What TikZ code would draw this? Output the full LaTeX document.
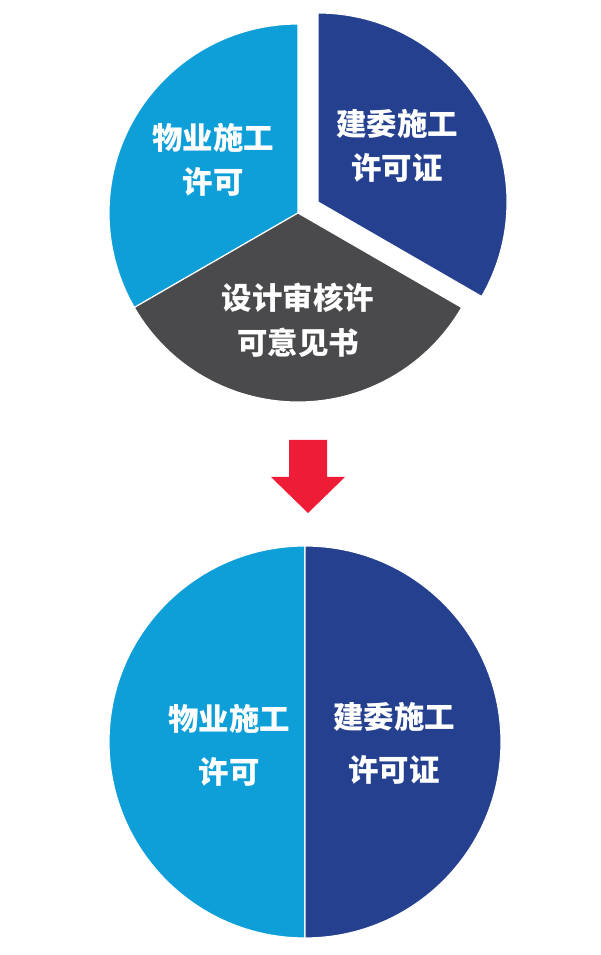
\documentclass[tikz,border=0pt]{standalone}
\usepackage{fontspec}
\setmainfont{Noto Sans CJK SC}
\usetikzlibrary{positioning}
\definecolor{cblue}{HTML}{0E9FD8}
\definecolor{cnavy}{HTML}{25408F}
\definecolor{cgrey}{HTML}{4A4A4D}
\definecolor{cred}{HTML}{EE1C37}
\tikzset{
  every picture/.style={font=\bfseries, line width=1.2pt},
  slicetext/.style={text=white, align=center, font=\bfseries\fontsize{26}{38}\selectfont},
}

\begin{document}
\begin{tikzpicture}[x=0.03cm, y=0.03cm,
  slice/.style={fill=#1, draw=white, line width=1pt}]
  \useasboundingbox (0,0) rectangle (601,955);
  % top pie: three permits, the navy one pulled out
  \coordinate (top) at (298,742);
  \coordinate (topout) at (318,753);
  \path[slice=cblue] (top) -- ++(90:189) arc[start angle=90, end angle=210, radius=189] -- cycle;
  \path[slice=cgrey] (top) -- ++(210:189) arc[start angle=210, end angle=330, radius=189] -- cycle;
  \path[slice=cnavy] (topout) -- ++(-30:189) arc[start angle=-30, end angle=90, radius=189] -- cycle;
  \node[slicetext] (wuye) at (213,795) {物业施工\\许可};
  \node[slicetext] (jianwei) at (397,809) {建委施工\\许可证};
  \node[slicetext] (sheji) at (298,635) {设计审核许\\可意见书};
  % arrow
  \fill[cred] (289,515) -- (327,515) -- (327,478) -- (345,478) -- (308,442)
    -- (271,478) -- (289,478) -- cycle;
  % bottom pie: two halves
  \coordinate (bot) at (305,213);
  \path[slice=cblue] (bot) -- ++(90:196) arc[start angle=90, end angle=270, radius=196] -- cycle;
  \path[slice=cnavy] (bot) -- ++(-90:196) arc[start angle=-90, end angle=90, radius=196] -- cycle;
  \node[slicetext, font=\bfseries\fontsize{26}{45}\selectfont] (wuyeb) at (229,210) {物业施工\\许可};
  \node[slicetext, font=\bfseries\fontsize{26}{45}\selectfont] (jianweib) at (394,212) {建委施工\\许可证};
\end{tikzpicture}
\end{document}
